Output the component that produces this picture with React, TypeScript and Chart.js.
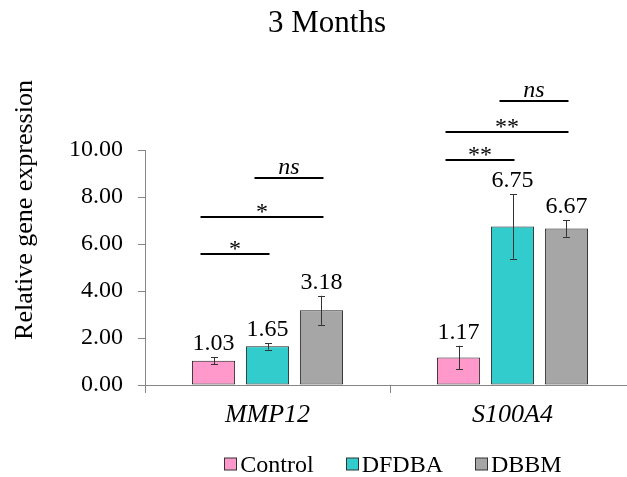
import React, { useEffect, useRef } from 'react';
import { Chart, registerables } from 'chart.js';

Chart.register(...registerables);

const categories = ['MMP12', 'S100A4'];
const seriesNames = ['Control', 'DFDBA', 'DBBM'];
const controlValues = [1.03, 1.17];
const dfdbaValues = [1.65, 6.75];
const dbbmValues = [3.18, 6.67];
const controlErrors = [0.15, 0.5];
const dfdbaErrors = [0.14, 1.37];
const dbbmErrors = [0.62, 0.36];
const yTickValues = [0, 2, 4, 6, 8, 10];
const titleText = '3 Months';
const yTitleText = 'Relative gene expression';

// significance brackets: category, from series, to series, label, bracket height (axis units)
const sigCategory = [0, 0, 0, 1, 1, 1];
const sigFrom = [0, 0, 1, 0, 0, 1];
const sigTo = [1, 2, 2, 1, 2, 2];
const sigLabel = ['*', '*', 'ns', '**', '**', 'ns'];
const sigHeight = [5.6, 7.14, 8.8, 9.6, 10.78, 12.09];

const colors = ['#FF99CC', '#33CCCC', '#A6A6A6'];
const SERIF = '"Liberation Serif", "Times New Roman", serif';

const overlayPlugin = {
  id: 'overlay',
  afterDatasetsDraw(chart: any) {
    const ctx = chart.ctx as CanvasRenderingContext2D;
    const ys = chart.scales.y;
    const vals = [controlValues, dfdbaValues, dbbmValues];
    const errs = [controlErrors, dfdbaErrors, dbbmErrors];
    ctx.save();
    // error bars + value labels
    for (let s = 0; s < vals.length; s++) {
      const meta = chart.getDatasetMeta(s);
      meta.data.forEach((bar: any, j: number) => {
        const x = Math.round(bar.x) + 0.5;
        const top = ys.getPixelForValue(vals[s][j] + errs[s][j]);
        const bot = ys.getPixelForValue(vals[s][j] - errs[s][j]);
        ctx.strokeStyle = '#333333';
        ctx.lineWidth = 1;
        ctx.beginPath();
        ctx.moveTo(x, top);
        ctx.lineTo(x, bot);
        ctx.moveTo(x - 3.5, Math.round(top) + 0.5);
        ctx.lineTo(x + 3.5, Math.round(top) + 0.5);
        ctx.moveTo(x - 3.5, Math.round(bot) + 0.5);
        ctx.lineTo(x + 3.5, Math.round(bot) + 0.5);
        ctx.stroke();
        ctx.fillStyle = '#000000';
        ctx.font = '24px ' + SERIF;
        ctx.textAlign = 'center';
        ctx.textBaseline = 'alphabetic';
        ctx.fillText(vals[s][j].toFixed(2), bar.x, top - 7);
      });
    }
    // significance brackets
    for (let k = 0; k < sigLabel.length; k++) {
      const c = sigCategory[k];
      const a = chart.getDatasetMeta(sigFrom[k]).data[c];
      const b = chart.getDatasetMeta(sigTo[k]).data[c];
      const x1 = a.x - 13;
      const x2 = b.x + 2;
      const ly = Math.round(ys.getPixelForValue(sigHeight[k]));
      ctx.strokeStyle = '#000000';
      ctx.lineWidth = 2;
      ctx.beginPath();
      ctx.moveTo(x1, ly);
      ctx.lineTo(x2, ly);
      ctx.stroke();
      const isNs = sigLabel[k] === 'ns';
      ctx.font = (isNs ? 'italic ' : '') + '24px ' + SERIF;
      ctx.fillStyle = '#000000';
      ctx.textAlign = 'center';
      ctx.textBaseline = 'alphabetic';
      ctx.fillText(sigLabel[k], (x1 + x2) / 2, isNs ? ly - 4 : ly + 2);
    }
    ctx.restore();
  },
  afterDraw(chart: any) {
    const ctx = chart.ctx as CanvasRenderingContext2D;
    const area = chart.chartArea;
    ctx.save();
    // y axis title
    ctx.translate(32, 210);
    ctx.rotate(-Math.PI / 2);
    ctx.font = '26px ' + SERIF;
    ctx.fillStyle = '#000000';
    ctx.textAlign = 'center';
    ctx.textBaseline = 'alphabetic';
    ctx.fillText(yTitleText, 0, 0);
    ctx.restore();

    // legend
    ctx.save();
    ctx.font = '24px ' + SERIF;
    const box = 12;
    const gapBoxText = 4;
    const gapItems = 32;
    const widths = seriesNames.map((n) => ctx.measureText(n).width);
    const total = widths.reduce((acc, w) => acc + box + gapBoxText + w, 0) + gapItems * (seriesNames.length - 1);
    let x = (area.left + area.right) / 2 + 3 - total / 2;
    const baseline = 471.5;
    seriesNames.forEach((n, i) => {
      ctx.fillStyle = colors[i];
      ctx.fillRect(Math.round(x) + 0.5, baseline - 13.5, box, box);
      ctx.strokeStyle = '#333333';
      ctx.lineWidth = 1;
      ctx.strokeRect(Math.round(x) + 0.5, baseline - 13.5, box, box);
      ctx.fillStyle = '#000000';
      ctx.textAlign = 'left';
      ctx.textBaseline = 'alphabetic';
      ctx.fillText(n, x + box + gapBoxText, baseline);
      x += box + gapBoxText + widths[i] + gapItems;
    });
    ctx.restore();
  },
};

export default function App() {
  const ref = useRef<HTMLCanvasElement | null>(null);
  useEffect(() => {
    if (!ref.current) return;
    const chart = new Chart(ref.current, {
      type: 'bar',
      data: {
        labels: categories,
        datasets: [controlValues, dfdbaValues, dbbmValues].map((d, i) => ({
          label: seriesNames[i],
          data: d,
          backgroundColor: colors[i],
          borderColor: '#222222',
          borderWidth: 1,
          borderSkipped: false,
          categoryPercentage: 0.661,
          barPercentage: 0.8,
        })),
      },
      options: {
        animation: false,
        responsive: false,
        devicePixelRatio: 1,
        layout: { padding: { left: 19, right: 19, top: 0, bottom: 0 } },
        plugins: {
          legend: { display: false },
          tooltip: { enabled: false },
          title: {
            display: true,
            text: titleText,
            color: '#000000',
            font: { family: SERIF, size: 31, weight: 'normal' },
            padding: { top: 5, bottom: 108 },
          },
        },
        scales: {
          x: {
            grid: {
              display: true,
              drawOnChartArea: false,
              drawTicks: true,
              tickLength: 8,
              color: '#868686',
              offset: true,
            },
            border: { display: true, color: '#868686', width: 1 },
            ticks: {
              color: '#000000',
              font: { family: SERIF, size: 26, style: 'italic' },
              padding: 7,
            },
            afterFit: (scale: any) => {
              scale.height = 92;
            },
          },
          y: {
            min: 0,
            max: 10,
            afterBuildTicks: (scale: any) => {
              scale.ticks = yTickValues.map((v) => ({ value: v }));
            },
            grid: {
              display: true,
              drawOnChartArea: false,
              drawTicks: true,
              tickLength: 7,
              color: '#868686',
            },
            border: { display: true, color: '#868686', width: 1 },
            ticks: {
              color: '#000000',
              font: { family: SERIF, size: 24 },
              padding: 15,
              callback: (v: any) => Number(v).toFixed(2),
            },
            afterFit: (scale: any) => {
              scale.width = 126;
            },
          },
        },
      },
      plugins: [overlayPlugin],
    });
    return () => chart.destroy();
  }, []);
  return (
    <div style={{ position: 'fixed', left: 0, top: 0, width: 627, height: 477, overflow: 'hidden', background: '#ffffff' }}>
      <canvas ref={ref} width={654} height={477} style={{ width: 654, height: 477, display: 'block' }} />
    </div>
  );
}
